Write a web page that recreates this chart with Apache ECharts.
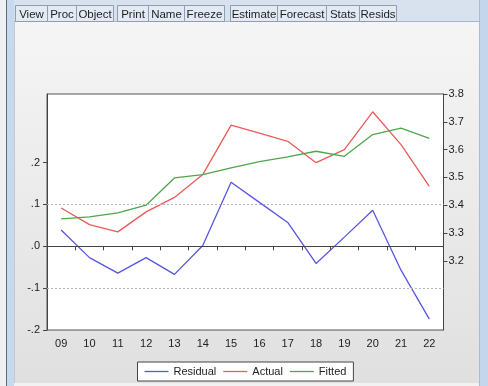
<!DOCTYPE html>
<html>
<head>
<meta charset="utf-8">
<script src="https://cdn.jsdelivr.net/npm/echarts@6/dist/echarts.min.js"></script>
<style>
  html, body { margin: 0; padding: 0; }
  #wrap { position: relative; width: 488px; height: 386px; background: #eef0f3; overflow: hidden; }
  .abs { position: absolute; }
  #chart { position: absolute; left: 0; top: 0; width: 488px; height: 386px; }
</style>
</head>
<body>
<div id="wrap">
  <div class="abs" style="left:6px;top:0;width:1px;height:386px;background:#5d6a7a;"></div>
  <div class="abs" style="left:7px;top:0;width:7px;height:386px;background:#c9d9ed;"></div>
  <div class="abs" style="left:480px;top:0;width:8px;height:386px;background:#c4d6ec;"></div>
  <div class="abs" style="left:479px;top:0;width:1px;height:386px;background:#a9bcd3;"></div>
  <div class="abs" style="left:14px;top:0;width:465px;height:21px;background:#d8e2ee;"></div>
  <div class="abs" style="left:14px;top:21px;width:465px;height:1px;background:#a7b6c8;"></div>
  <div class="abs" style="left:14px;top:22px;width:465px;height:361px;background:linear-gradient(#f5f5f5,#e0e0e0);"></div>
  <div class="abs" style="left:14px;top:22px;width:1px;height:361px;background:#c8c8c8;"></div>
  <div class="abs" style="left:14px;top:383px;width:465px;height:3px;background:#f2f2f2;"></div>
  <div id="chart"></div>
</div>
<script>
const categories = ['09','10','11','12','13','14','15','16','17','18','19','20','21','22'];
const residual = [0.039, -0.027, -0.064, -0.027, -0.067, 0.002, 0.153, 0.105, 0.057, -0.041, 0.022, 0.086, -0.057, -0.174];
const actual   = [3.390, 3.330, 3.304, 3.376, 3.428, 3.510, 3.688, 3.659, 3.630, 3.553, 3.600, 3.736, 3.618, 3.468];
const fitted   = [3.351, 3.358, 3.372, 3.400, 3.498, 3.510, 3.534, 3.557, 3.574, 3.594, 3.576, 3.654, 3.677, 3.640];
const leftTicks  = [-0.2, -0.1, 0, 0.1, 0.2];
const rightTicks = [3.2, 3.3, 3.4, 3.5, 3.6, 3.7, 3.8];
const residSE = 0.095;
const toolbarLabels = ['View','Proc','Object','Print','Name','Freeze','Estimate','Forecast','Stats','Resids'];
const toolbarEdges = [[15,47],[47,76],[76,113],[117,148],[148,184],[184,224],[230,277],[277,326],[326,359],[359,396]];

const chart = echarts.init(document.getElementById('chart'), null, {renderer: 'canvas'});

const toolbar = [];
toolbarLabels.forEach((t, i) => {
  const [a, b] = toolbarEdges[i];
  toolbar.push({
    type: 'rect', shape: {x: a + 0.5, y: 5.5, width: b - a, height: 16},
    style: {fill: '#e3eaf3', stroke: '#8e9db0', lineWidth: 1}, silent: true
  });
  toolbar.push({
    type: 'text', x: (a + b) / 2 + 0.5, y: 14.5,
    style: {text: t, fill: '#1e1e1e', font: '11.5px "Liberation Sans", Arial, sans-serif', align: 'center', verticalAlign: 'middle'},
    silent: true
  });
});

const fontFam = '"Liberation Sans", Arial, sans-serif';

chart.setOption({
  animation: false,
  backgroundColor: 'transparent',
  graphic: toolbar,
  grid: {left: 47, right: 44.5, top: 94, bottom: 56, show: true, backgroundColor: '#ffffff', borderColor: '#555', borderWidth: 1},
  legend: {
    left: 137.5, top: 362,
    data: ['Residual', 'Actual', 'Fitted'],
    icon: 'rect',
    itemWidth: 24, itemHeight: 1.3, itemGap: 7,
    padding: [2, 7, 2, 7],
    backgroundColor: '#ffffff', borderColor: '#444', borderWidth: 1,
    textStyle: {fontFamily: fontFam, fontSize: 11, color: '#222', lineHeight: 15, padding: [0, 0, 0, 0]}
  },
  xAxis: {
    type: 'category', data: categories, boundaryGap: true,
    axisLine: {show: true, lineStyle: {color: '#444', width: 1}},
    axisTick: {show: true, length: 4, lineStyle: {color: '#444'}},
    axisLabel: {margin: 8, fontFamily: fontFam, fontSize: 11, color: '#222', interval: 0},
    splitLine: {show: false}
  },
  yAxis: [
    {
      type: 'value', position: 'left', min: -0.2, max: 0.364,
      axisLine: {show: true, lineStyle: {color: '#444'}},
      axisTick: {show: true, length: 4, customValues: leftTicks, lineStyle: {color: '#444'}},
      axisLabel: {
        customValues: leftTicks, margin: 7, fontFamily: fontFam, fontSize: 11, color: '#222',
        formatter: v => v.toFixed(1).replace('0.', '.')
      },
      splitLine: {show: false}
    },
    {
      type: 'value', position: 'right', min: 2.951, max: 3.8,
      axisLine: {show: true, lineStyle: {color: '#444'}},
      axisTick: {show: true, length: 4, customValues: rightTicks, lineStyle: {color: '#444'}},
      axisLabel: {
        customValues: rightTicks, margin: 5, fontFamily: fontFam, fontSize: 11, color: '#222',
        formatter: v => v.toFixed(1)
      },
      splitLine: {show: false}
    }
  ],
  series: [
    {
      name: 'Residual', type: 'line', yAxisIndex: 0, data: residual,
      symbol: 'none', lineStyle: {color: '#5656e4', width: 1.3}, itemStyle: {color: '#5656e4'},
      markLine: {
        silent: true, symbol: 'none', label: {show: false},
        data: [
          {yAxis: residSE, lineStyle: {type: [2, 2], color: '#b5b5b5', width: 1}},
          {yAxis: -residSE, lineStyle: {type: [2, 2], color: '#b5b5b5', width: 1}},
          {yAxis: 0, lineStyle: {type: 'solid', color: '#444', width: 1}}
        ]
      }
    },
    {
      name: 'Actual', type: 'line', yAxisIndex: 1, data: actual,
      symbol: 'none', lineStyle: {color: '#ec5a5a', width: 1.3}, itemStyle: {color: '#ec5a5a'}
    },
    {
      name: 'Fitted', type: 'line', yAxisIndex: 1, data: fitted,
      symbol: 'none', lineStyle: {color: '#4ea64e', width: 1.3}, itemStyle: {color: '#4ea64e'}
    }
  ]
});
</script>
</body>
</html>
